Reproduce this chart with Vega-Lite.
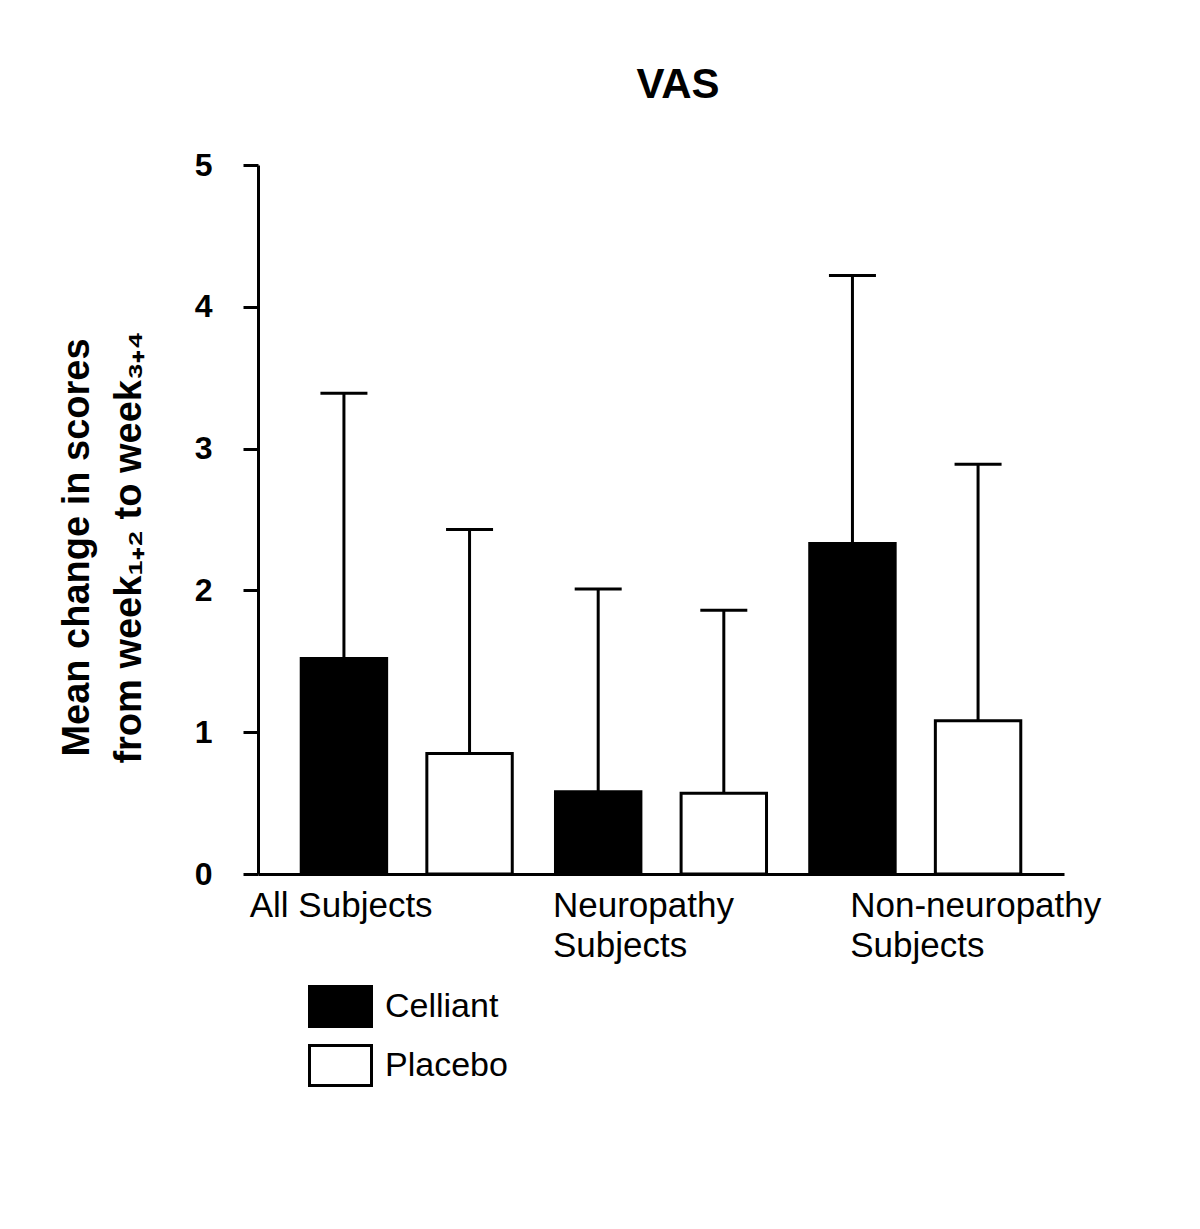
{
  "$schema": "https://vega.github.io/schema/vega-lite/v6.json",
  "width": 806,
  "height": 709,
  "autosize": "none",
  "padding": {"left": 258, "top": 165, "right": 136, "bottom": 355},
  "background": "white",
  "config": {"view": {"stroke": null}},
  "title": {"text": "VAS", "font": "Liberation Sans", "fontSize": 42, "fontWeight": "bold", "color": "black", "anchor": "middle", "dx": 17, "offset": 42},
  "data": {"values": [
    {"group": "All Subjects", "treatment": "Celliant", "mean": 1.52, "upper": 3.39},
    {"group": "All Subjects", "treatment": "Placebo", "mean": 0.85, "upper": 2.43},
    {"group": "Neuropathy Subjects", "treatment": "Celliant", "mean": 0.58, "upper": 2.01},
    {"group": "Neuropathy Subjects", "treatment": "Placebo", "mean": 0.57, "upper": 1.86},
    {"group": "Non-neuropathy Subjects", "treatment": "Celliant", "mean": 2.33, "upper": 4.22},
    {"group": "Non-neuropathy Subjects", "treatment": "Placebo", "mean": 1.08, "upper": 2.89}
  ]},
  "encoding": {
    "x": {
      "field": "group", "type": "nominal",
      "sort": ["All Subjects", "Neuropathy Subjects", "Non-neuropathy Subjects"],
      "scale": {"paddingInner": 0.17, "paddingOuter": 0.17},
      "axis": {
        "title": null, "ticks": false, "domainColor": "black", "domainWidth": 3,
        "labelFont": "Liberation Sans", "labelFontSize": 35, "labelColor": "black",
        "labelAngle": 0, "labelAlign": "left", "labelBaseline": "top", "labelPadding": 14,
        "labelLineHeight": 40, "labelLimit": 400,
        "labelExpr": "datum.value == 'All Subjects' ? datum.value : split(datum.value, ' ')",
        "labelOffset": {"condition": [
          {"test": "datum.value == 'All Subjects'", "value": -157},
          {"test": "datum.value == 'Neuropathy Subjects'", "value": -108}
        ], "value": -65}
      }
    },
    "xOffset": {"field": "treatment", "type": "nominal", "sort": ["Celliant", "Placebo"], "scale": {"paddingInner": 0.32, "paddingOuter": 0}}
  },
  "layer": [
    {
      "mark": {"type": "bar", "stroke": "black", "strokeWidth": 3},
      "encoding": {
        "y": {
          "field": "mean", "type": "quantitative",
          "scale": {"domain": [0, 5], "nice": false},
          "axis": {
            "title": ["Mean change in scores", "from week₁₊₂ to week₃₊₄"],
            "values": [0, 1, 2, 3, 4, 5], "format": "d", "grid": false,
            "tickSize": 15, "tickWidth": 3, "tickColor": "black",
            "domainColor": "black", "domainWidth": 3,
            "labelFont": "Liberation Sans", "labelFontSize": 32, "labelFontWeight": "bold", "labelColor": "black", "labelPadding": 31,
            "titleFont": "Liberation Sans", "titleFontSize": 38, "titleFontWeight": "bold", "titleColor": "black",
            "titleX": -181, "titleY": 382, "titleBaseline": "middle", "titleLineHeight": 52, "titleAngle": 270, "titleAlign": "center"
          }
        },
        "color": {
          "field": "treatment", "type": "nominal",
          "scale": {"domain": ["Celliant", "Placebo"], "range": ["black", "white"]},
          "legend": {
            "title": null, "orient": "none", "legendX": 50, "legendY": 809,
            "symbolType": "M-1,-0.645L1,-0.645L1,0.645L-1,0.645Z", "symbolSize": 3844,
            "symbolStrokeColor": "black", "symbolStrokeWidth": 3, "symbolOpacity": 1,
            "labelFont": "Liberation Sans", "labelFontSize": 34, "labelColor": "black",
            "labelOffset": 12, "rowPadding": 0, "padding": 0
          }
        }
      }
    },
    {
      "mark": {"type": "rule", "strokeWidth": 3, "color": "black"},
      "encoding": {"y": {"field": "mean", "type": "quantitative"}, "y2": {"field": "upper"}}
    },
    {
      "mark": {"type": "tick", "thickness": 3, "size": 47, "color": "black", "opacity": 1},
      "encoding": {"y": {"field": "upper", "type": "quantitative"}}
    }
  ]
}
